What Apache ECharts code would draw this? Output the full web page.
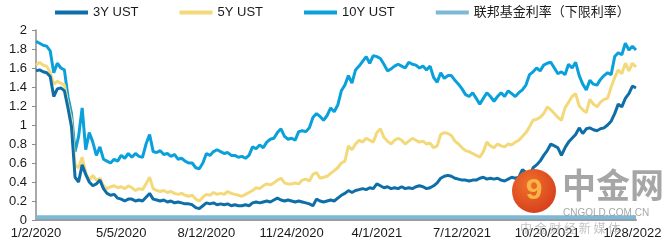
<!DOCTYPE html>
<html>
<head>
<meta charset="utf-8">
<script src="https://cdn.jsdelivr.net/npm/echarts@6/dist/echarts.min.js"></script>
<style>
html,body{margin:0;padding:0;background:#fff;}
#chart{width:668px;height:246px;}
</style>
</head>
<body>
<div id="chart"></div>
<script>
// Tick labels shown on the x axis (one every 24 points)
const tickLabels = ['1/2/2020','5/5/2020','8/12/2020','11/24/2020','4/1/2021','7/12/2021','10/20/2021','1/28/2022'];
const seriesNames = ['3Y UST','5Y UST','10Y UST','联邦基金利率（下限利率）'];
const yTicks = [0,0.2,0.4,0.6,0.8,1,1.2,1.4,1.6,1.8,2];

const ust3y = [
1.57,1.58,1.56,1.55,1.51,1.30,1.38,1.39,1.36,1.18,
0.98,0.45,0.40,0.58,0.48,0.40,0.36,0.38,0.42,0.33,
0.28,0.26,0.27,0.23,0.22,0.20,0.22,0.22,0.20,0.21,
0.20,0.24,0.28,0.22,0.21,0.20,0.21,0.19,0.20,0.18,
0.19,0.18,0.17,0.17,0.16,0.13,0.12,0.15,0.18,0.17,
0.18,0.16,0.17,0.16,0.17,0.15,0.16,0.15,0.15,0.16,
0.15,0.18,0.19,0.18,0.19,0.20,0.19,0.21,0.23,0.21,
0.20,0.21,0.20,0.19,0.20,0.19,0.18,0.17,0.15,0.22,
0.20,0.19,0.20,0.21,0.20,0.23,0.26,0.28,0.31,0.29,
0.31,0.32,0.33,0.32,0.34,0.33,0.38,0.36,0.34,0.35,
0.33,0.34,0.33,0.35,0.33,0.34,0.33,0.35,0.36,0.35,
0.33,0.34,0.36,0.39,0.44,0.46,0.47,0.46,0.44,0.43,
0.42,0.42,0.41,0.42,0.42,0.44,0.45,0.43,0.44,0.43,
0.44,0.42,0.41,0.43,0.45,0.44,0.45,0.53,0.50,0.46,
0.55,0.58,0.62,0.68,0.73,0.80,0.78,0.76,0.68,0.76,
0.82,0.86,0.90,0.97,0.91,0.96,0.97,0.95,0.94,0.96,
0.97,1.00,1.04,1.12,1.22,1.19,1.28,1.33,1.41,1.39
];
const ust5y = [
1.63,1.66,1.63,1.62,1.55,1.43,1.46,1.44,1.42,1.22,
1.05,0.58,0.55,0.66,0.50,0.42,0.47,0.42,0.44,0.36,
0.33,0.35,0.36,0.34,0.35,0.33,0.36,0.34,0.31,0.33,
0.32,0.38,0.45,0.33,0.31,0.30,0.31,0.29,0.30,0.28,
0.27,0.28,0.26,0.25,0.26,0.22,0.20,0.24,0.27,0.26,
0.29,0.27,0.28,0.27,0.30,0.28,0.27,0.26,0.25,0.27,
0.29,0.31,0.34,0.33,0.36,0.38,0.37,0.39,0.42,0.44,
0.39,0.38,0.38,0.39,0.38,0.42,0.43,0.41,0.48,0.50,
0.44,0.45,0.46,0.49,0.52,0.55,0.60,0.62,0.78,0.74,
0.80,0.84,0.82,0.86,0.84,0.82,0.92,0.96,0.87,0.83,
0.80,0.84,0.86,0.84,0.80,0.83,0.86,0.84,0.82,0.83,
0.80,0.81,0.76,0.78,0.90,0.92,0.91,0.89,0.83,0.80,
0.76,0.73,0.72,0.70,0.68,0.66,0.72,0.82,0.78,0.76,
0.80,0.78,0.77,0.80,0.79,0.82,0.84,0.88,0.92,0.98,
1.05,1.06,1.08,1.12,1.19,1.16,1.12,1.08,1.05,1.18,
1.24,1.30,1.33,1.20,1.16,1.13,1.27,1.22,1.19,1.24,
1.27,1.28,1.40,1.50,1.58,1.54,1.65,1.57,1.65,1.61
];
const ust10y = [
1.88,1.86,1.84,1.83,1.78,1.55,1.65,1.60,1.58,1.30,
1.12,0.72,0.88,1.18,0.74,0.92,0.82,0.68,0.77,0.64,
0.62,0.60,0.64,0.62,0.68,0.65,0.70,0.66,0.70,0.67,
0.66,0.80,0.90,0.72,0.71,0.73,0.69,0.70,0.67,0.69,
0.64,0.65,0.62,0.60,0.60,0.55,0.54,0.60,0.70,0.68,
0.72,0.74,0.72,0.70,0.71,0.68,0.68,0.66,0.67,0.65,
0.68,0.77,0.75,0.79,0.76,0.82,0.85,0.86,0.92,0.96,
0.88,0.85,0.86,0.84,0.93,0.94,0.93,0.97,1.08,1.12,
1.09,1.05,1.10,1.18,1.14,1.21,1.36,1.42,1.52,1.44,
1.58,1.62,1.67,1.72,1.65,1.73,1.72,1.70,1.64,1.57,
1.59,1.62,1.64,1.62,1.60,1.66,1.64,1.63,1.60,1.62,
1.58,1.62,1.50,1.45,1.55,1.49,1.52,1.52,1.47,1.43,
1.38,1.32,1.30,1.34,1.28,1.22,1.28,1.34,1.30,1.25,
1.30,1.34,1.30,1.36,1.33,1.30,1.34,1.37,1.42,1.53,
1.56,1.60,1.57,1.63,1.65,1.66,1.60,1.54,1.56,1.53,
1.64,1.60,1.66,1.52,1.43,1.37,1.47,1.43,1.42,1.48,
1.52,1.55,1.53,1.72,1.76,1.74,1.86,1.79,1.83,1.79
];
// Fed funds lower bound: flat line at the bottom for the whole span
const fedFunds = [0.03, 0.03];

// Build category dates between the labelled ticks
const stepsPerTick = 24;
function parseD(s){const p=s.split('/').map(Number);return Date.UTC(p[2],p[0]-1,p[1]);}
function fmtD(t){const d=new Date(t);return (d.getUTCMonth()+1)+'/'+d.getUTCDate()+'/'+d.getUTCFullYear();}
const tickTimes = tickLabels.map(parseD);
const categories = [];
for (let i = 0; i < ust10y.length; i++) {
  const seg = Math.floor(i / stepsPerTick), f = (i % stepsPerTick) / stepsPerTick;
  let t;
  if (seg < tickTimes.length - 1) t = tickTimes[seg] + (tickTimes[seg+1] - tickTimes[seg]) * f;
  else t = tickTimes[tickTimes.length-1] + (i - (tickTimes.length-1)*stepsPerTick) * (tickTimes[tickTimes.length-1]-tickTimes[tickTimes.length-2]) / stepsPerTick;
  const day = 86400000;
  categories.push(fmtD(Math.round(t / day) * day));
}
const fedData = [[categories[0], fedFunds[0]], [categories[categories.length-1], fedFunds[1]]];

const FONT = '"Liberation Sans", Arial, "Noto Sans CJK SC", sans-serif';
const colors = ['#0e6ea8', '#f3d97a', '#0aa0dc', '#7db9d7'];

const chart = echarts.init(document.getElementById('chart'), null, {renderer: 'canvas'});
chart.setOption({
  animation: false,
  color: colors,
  textStyle: {fontFamily: FONT},
  legend: {
    top: 1, left: 50,
    itemWidth: 33, itemHeight: 4, itemGap: 41,
    icon: 'rect',
    textStyle: {fontSize: 13, color: '#1a1a1a', fontFamily: FONT},
    data: seriesNames
  },
  grid: {left: 36, right: 32, top: 30, bottom: 26, containLabel: false},
  xAxis: {
    type: 'category',
    data: categories,
    boundaryGap: false,
    axisLine: {lineStyle: {color: '#9a9a9a', width: 2}},
    axisTick: {show: false},
    axisLabel: {interval: stepsPerTick - 1, fontSize: 13, color: '#1a1a1a', margin: 7, fontFamily: FONT},
    splitLine: {show: false}
  },
  yAxis: {
    type: 'value',
    min: yTicks[0], max: yTicks[yTicks.length-1], interval: 0.2,
    axisLine: {show: true, lineStyle: {color: '#8c8c8c', width: 1.5}},
    axisTick: {show: true, length: 4, lineStyle: {color: '#8c8c8c'}},
    axisLabel: {fontSize: 13, color: '#1a1a1a', margin: 9, fontFamily: FONT,
      formatter: v => String(Math.round(v*10)/10)},
    splitLine: {show: false}
  },
  series: [
    {name: seriesNames[0], type: 'line', data: ust3y, showSymbol: false, lineStyle: {width: 3}, z: 4},
    {name: seriesNames[1], type: 'line', data: ust5y, showSymbol: false, lineStyle: {width: 3}, z: 3},
    {name: seriesNames[2], type: 'line', data: ust10y, showSymbol: false, lineStyle: {width: 3}, z: 2},
    {name: seriesNames[3], type: 'line', data: fedData, showSymbol: false, lineStyle: {width: 4}, z: 5}
  ],
  graphic: [
    {type: 'circle', shape: {cx: 534, cy: 191, r: 22}, z: 100,
      style: {fill: new echarts.graphic.RadialGradient(0.4, 0.35, 0.8, [{offset: 0, color: '#f0722c'}, {offset: 1, color: '#d2361a'}])}},
    {type: 'text', x: 534, y: 191, z: 101,
      style: {text: '9', fontSize: 30, fontWeight: 'bold', fill: '#f8b544', align: 'center', verticalAlign: 'middle', fontFamily: FONT}},
    {type: 'text', x: 562, y: 168, z: 100,
      style: {text: '中金网', fontSize: 34, fontWeight: 'bold', fill: 'rgba(150,150,150,0.85)', fontFamily: '"Noto Sans CJK SC", sans-serif'}},
    {type: 'text', x: 563, y: 208, z: 100,
      style: {text: 'CNGOLD.COM.CN', fontSize: 10, fill: 'rgba(150,150,150,0.85)', fontFamily: FONT}},
    {type: 'text', x: 520, y: 222, z: 100,
      style: {text: '中 金 财 经 新 媒 体', fontSize: 12, fill: 'rgba(170,170,170,0.7)', fontFamily: '"Noto Sans CJK SC", sans-serif'}}
  ]
});
</script>
</body>
</html>
